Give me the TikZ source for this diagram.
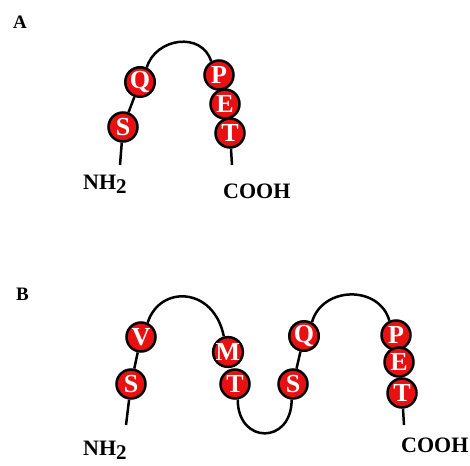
\documentclass[tikz,border=0pt]{standalone}
\usepackage{fontspec}
\setmainfont{Liberation Serif}
\usetikzlibrary{backgrounds}
\definecolor{aared}{RGB}{232,16,16}
\tikzset{
  aa/.style={circle,draw=black,line width=2.5pt,fill=aared,inner sep=0pt,minimum size=29pt,
    text=white,font=\bfseries\fontsize{26}{26}\selectfont},
  chain/.style={line width=2.5pt,draw=black},
  lbl/.style={font=\bfseries\fontsize{22}{22}\selectfont,inner sep=0pt,anchor=base west},
  panel/.style={font=\bfseries\fontsize{19}{19}\selectfont,inner sep=0pt,anchor=base west}
}
\newcommand{\nhtwo}{NH\raisebox{-4pt}{\fontsize{21}{21}\selectfont 2}}
\begin{document}
\begin{tikzpicture}[x=1pt,y=-1pt]
\useasboundingbox (0,0) rectangle (470,465);
% Panel A
\node[panel] (la) at (13,29) {A};
\node[aa] (aS) at (123,127) {S};
\node[aa] (aQ) at (140,82) {Q};
\node[aa] (aP) at (219,75) {P};
\node[aa] (aE) at (225,104) {E};
\node[aa] (aT) at (230,133) {T};
\coordinate (aN) at (120,165);
\coordinate (aC) at (232,165);
\node[lbl] (nhA) at (83,189) {\nhtwo};
\node[lbl] (coA) at (223,198) {COOH};
\begin{scope}[on background layer]
\draw[chain] (aN) -- (aS) -- (aQ);
\draw[chain] (aQ.65) .. controls +(9,-30) and +(-9,-30) .. (aP.120);
\draw[chain] (aT) -- (aC);
\end{scope}
% Panel B
\node[panel] (lb) at (16,300) {B};
\node[aa] (bS1) at (131,384) {S};
\node[aa] (bV) at (141,337) {V};
\node[aa] (bM) at (228,352) {M};
\node[aa] (bT1) at (235,384) {T};
\node[aa] (bS2) at (293,384) {S};
\node[aa] (bQ) at (304,336) {Q};
\node[aa] (bP) at (396,335) {P};
\node[aa] (bE) at (399,362) {E};
\node[aa] (bT2) at (402,393) {T};
\coordinate (bN) at (126,425);
\coordinate (bC) at (404,425);
\node[lbl] (nhB) at (83,455) {\nhtwo};
\node[lbl] (coB) at (401,452) {COOH};
\begin{scope}[on background layer]
\draw[chain] (bN) -- (bS1) -- (bV);
\draw[chain] (bV.65) .. controls +(12,-38) and +(-10,-50) .. (bM.105);
\draw[chain] (bT1.-80) .. controls +(0,45) and +(0,45) .. (bS2.-95);
\draw[chain] (bS2) -- (bQ);
\draw[chain] (bQ.60) .. controls +(10,-36) and +(-10,-36) .. (bP.115);
\draw[chain] (bT2) -- (bC);
\end{scope}
\end{tikzpicture}
\end{document}
